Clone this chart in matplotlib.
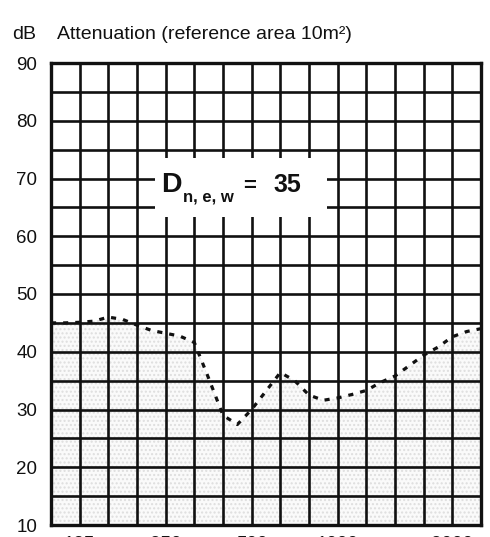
import matplotlib
matplotlib.use("Agg")
import matplotlib.pyplot as plt
from matplotlib.patches import Rectangle

plt.rcParams["font.family"] = ["Liberation Sans", "DejaVu Sans"]

# 1/3-octave bands drawn as vertical grid lines
BANDS = [100, 125, 160, 200, 250, 315, 400, 500, 630, 800,
         1000, 1250, 1600, 2000, 2500, 3150]
FREQ_LABELS = {125: "125", 250: "250", 500: "500", 1000: "1000", 2500: "2000"}

# curve, in half-band steps (band index, dB)
CURVE_X = [0, 0.5, 1, 1.5, 2, 2.5, 3, 3.5, 4, 4.5, 5, 5.5, 6, 6.5, 7, 7.5,
           8, 8.5, 9, 9.5, 10, 10.5, 11, 11.5, 12, 12.5, 13, 13.5, 14, 14.5, 15]
CURVE_DB = [45.0, 45.0, 45.1, 45.3, 46.0, 45.6, 44.6, 43.7, 43.2, 42.7, 41.6,
            35.4, 29.0, 27.4, 30.0, 33.2, 36.4, 35.0, 32.5, 31.6, 32.0, 32.6,
            33.3, 34.7, 35.8, 37.6, 39.4, 40.8, 42.6, 43.5, 44.0]

Y_MIN, Y_MAX = 10, 90
RATING = "35"

INK = "#111111"

fig = plt.figure(figsize=(4.90, 5.37), dpi=100, facecolor="white")
ax = fig.add_axes([51 / 490, 12 / 537, 430 / 490, 462 / 537])

# faint dotted shading under the curve
ax.fill_between(CURVE_X, Y_MIN, CURVE_DB, facecolor="#fafafa",
                edgecolor="#dedede", hatch="....", linewidth=0, zorder=1)

ax.set_xlim(0, len(BANDS) - 1)
ax.set_ylim(Y_MIN, Y_MAX)
ax.set_xticks(range(len(BANDS)))
ax.set_xticklabels([FREQ_LABELS.get(b, "") for b in BANDS])
yt = list(range(Y_MIN, Y_MAX + 1, 5))
ax.set_yticks(yt)
ax.set_yticklabels([str(v) if v % 10 == 0 else "" for v in yt])
ax.tick_params(length=0, labelsize=13.5, colors=INK, pad=10)
ax.tick_params(axis="x", pad=8)
ax.set_axisbelow(False)
ax.grid(True, color=INK, linewidth=1.9)
for sp in ax.spines.values():
    sp.set_linewidth(2.4)
    sp.set_color(INK)
    sp.set_zorder(6)

# white label box over the grid
ax.add_patch(Rectangle((3.62, 63.4), 6.0, 10.2, facecolor="white",
                       edgecolor="none", zorder=3))
ax.text(3.85, 67.7, "D", fontsize=20.5, fontweight="bold", color=INK,
        va="baseline", zorder=5)
ax.text(4.6, 66.0, "n, e, w", fontsize=12, fontweight="bold", color=INK,
        va="baseline", zorder=5)
ax.text(6.7, 67.7, "=", fontsize=16, fontweight="bold", color=INK,
        va="baseline", zorder=5)
ax.text(7.75, 67.7, RATING, fontsize=18, fontweight="bold", color=INK,
        va="baseline", zorder=5)

ax.plot(CURVE_X, CURVE_DB, color=INK, linewidth=2.3,
        linestyle=(0, (1.6, 2.2)), zorder=4)

fig.text(12 / 490, 1 - 39 / 537, "dB", fontsize=14, color=INK, va="baseline")
fig.text(57 / 490, 1 - 39 / 537, "Attenuation (reference area 10m\u00b2)",
         fontsize=14, color=INK, va="baseline")

fig.savefig("out.png", dpi=100, facecolor="white")
